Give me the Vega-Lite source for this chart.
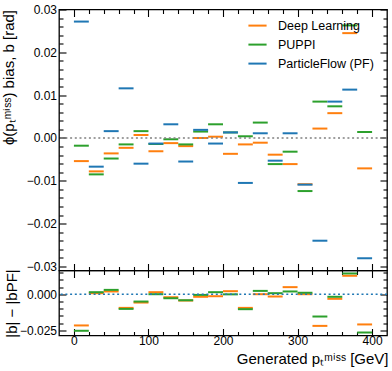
{
  "$schema": "https://vega.github.io/schema/vega-lite/v6.json",
  "padding": {"left": 0, "top": 2.5, "right": 2, "bottom": 2},
  "bounds": "flush",
  "spacing": 0,
  "config": {
    "view": {"stroke": "black", "strokeWidth": 1.3},
    "font": "Liberation Sans",
    "axis": {"domain": false, "grid": false, "tickColor": "black", "labelColor": "black", "titleColor": "black", "labelFont": "Liberation Sans", "titleFont": "Liberation Sans", "labelFontSize": 12, "titleFontSize": 15, "titleFontWeight": "normal", "labelOverlap": false, "labelFlush": false, "tickWidth": 1.1}
  },
  "datasets": {
    "top": [
      {"x0": 0, "x1": 20, "series": "Deep Learning", "b": -0.0054},
      {"x0": 20, "x1": 40, "series": "Deep Learning", "b": -0.0078},
      {"x0": 40, "x1": 60, "series": "Deep Learning", "b": -0.0036},
      {"x0": 60, "x1": 80, "series": "Deep Learning", "b": -0.0023},
      {"x0": 80, "x1": 100, "series": "Deep Learning", "b": 0.0007},
      {"x0": 100, "x1": 120, "series": "Deep Learning", "b": -0.0031},
      {"x0": 120, "x1": 140, "series": "Deep Learning", "b": -0.0012},
      {"x0": 140, "x1": 160, "series": "Deep Learning", "b": -0.0019},
      {"x0": 160, "x1": 180, "series": "Deep Learning", "b": 0.0000},
      {"x0": 180, "x1": 200, "series": "Deep Learning", "b": 0.0003},
      {"x0": 200, "x1": 220, "series": "Deep Learning", "b": -0.0037},
      {"x0": 220, "x1": 240, "series": "Deep Learning", "b": -0.0015},
      {"x0": 240, "x1": 260, "series": "Deep Learning", "b": -0.0011},
      {"x0": 260, "x1": 280, "series": "Deep Learning", "b": -0.0039},
      {"x0": 280, "x1": 300, "series": "Deep Learning", "b": -0.0061},
      {"x0": 300, "x1": 320, "series": "Deep Learning", "b": -0.0108},
      {"x0": 320, "x1": 340, "series": "Deep Learning", "b": 0.0022},
      {"x0": 340, "x1": 360, "series": "Deep Learning", "b": 0.0058},
      {"x0": 360, "x1": 380, "series": "Deep Learning", "b": 0.0245},
      {"x0": 380, "x1": 400, "series": "Deep Learning", "b": -0.0071},
      {"x0": 0, "x1": 20, "series": "PUPPI", "b": -0.0018},
      {"x0": 20, "x1": 40, "series": "PUPPI", "b": -0.0085},
      {"x0": 40, "x1": 60, "series": "PUPPI", "b": -0.0048},
      {"x0": 60, "x1": 80, "series": "PUPPI", "b": -0.0015},
      {"x0": 80, "x1": 100, "series": "PUPPI", "b": 0.0016},
      {"x0": 100, "x1": 120, "series": "PUPPI", "b": -0.0014},
      {"x0": 120, "x1": 140, "series": "PUPPI", "b": -0.0003},
      {"x0": 140, "x1": 160, "series": "PUPPI", "b": -0.0015},
      {"x0": 160, "x1": 180, "series": "PUPPI", "b": 0.0015},
      {"x0": 180, "x1": 200, "series": "PUPPI", "b": 0.0032},
      {"x0": 200, "x1": 220, "series": "PUPPI", "b": 0.0013},
      {"x0": 220, "x1": 240, "series": "PUPPI", "b": 0.0004},
      {"x0": 240, "x1": 260, "series": "PUPPI", "b": 0.0036},
      {"x0": 260, "x1": 280, "series": "PUPPI", "b": -0.0061},
      {"x0": 280, "x1": 300, "series": "PUPPI", "b": -0.0032},
      {"x0": 300, "x1": 320, "series": "PUPPI", "b": -0.0124},
      {"x0": 320, "x1": 340, "series": "PUPPI", "b": 0.0085},
      {"x0": 340, "x1": 360, "series": "PUPPI", "b": 0.0074},
      {"x0": 360, "x1": 380, "series": "PUPPI", "b": 0.0263},
      {"x0": 380, "x1": 400, "series": "PUPPI", "b": 0.0014},
      {"x0": 0, "x1": 20, "series": "ParticleFlow (PF)", "b": 0.0272},
      {"x0": 20, "x1": 40, "series": "ParticleFlow (PF)", "b": -0.0067},
      {"x0": 40, "x1": 60, "series": "ParticleFlow (PF)", "b": 0.0016},
      {"x0": 60, "x1": 80, "series": "ParticleFlow (PF)", "b": 0.0116},
      {"x0": 80, "x1": 100, "series": "ParticleFlow (PF)", "b": -0.0060},
      {"x0": 100, "x1": 120, "series": "ParticleFlow (PF)", "b": -0.0013},
      {"x0": 120, "x1": 140, "series": "ParticleFlow (PF)", "b": 0.0032},
      {"x0": 140, "x1": 160, "series": "ParticleFlow (PF)", "b": -0.0055},
      {"x0": 160, "x1": 180, "series": "ParticleFlow (PF)", "b": 0.0019},
      {"x0": 180, "x1": 200, "series": "ParticleFlow (PF)", "b": -0.0013},
      {"x0": 200, "x1": 220, "series": "ParticleFlow (PF)", "b": 0.0013},
      {"x0": 220, "x1": 240, "series": "ParticleFlow (PF)", "b": -0.0105},
      {"x0": 240, "x1": 260, "series": "ParticleFlow (PF)", "b": 0.0011},
      {"x0": 260, "x1": 280, "series": "ParticleFlow (PF)", "b": -0.0053},
      {"x0": 280, "x1": 300, "series": "ParticleFlow (PF)", "b": 0.0011},
      {"x0": 300, "x1": 320, "series": "ParticleFlow (PF)", "b": -0.0109},
      {"x0": 320, "x1": 340, "series": "ParticleFlow (PF)", "b": -0.0240},
      {"x0": 340, "x1": 360, "series": "ParticleFlow (PF)", "b": 0.0085},
      {"x0": 360, "x1": 380, "series": "ParticleFlow (PF)", "b": 0.0113},
      {"x0": 380, "x1": 400, "series": "ParticleFlow (PF)", "b": -0.0281}
    ],
    "bot": [
      {"x0": 0, "x1": 20, "series": "Deep Learning", "d": -0.0217},
      {"x0": 20, "x1": 40, "series": "Deep Learning", "d": 0.0007},
      {"x0": 40, "x1": 60, "series": "Deep Learning", "d": 0.0019},
      {"x0": 60, "x1": 80, "series": "Deep Learning", "d": -0.0095},
      {"x0": 80, "x1": 100, "series": "Deep Learning", "d": -0.0058},
      {"x0": 100, "x1": 120, "series": "Deep Learning", "d": 0.0014},
      {"x0": 120, "x1": 140, "series": "Deep Learning", "d": -0.0021},
      {"x0": 140, "x1": 160, "series": "Deep Learning", "d": -0.0044},
      {"x0": 160, "x1": 180, "series": "Deep Learning", "d": -0.0018},
      {"x0": 180, "x1": 200, "series": "Deep Learning", "d": -0.0014},
      {"x0": 200, "x1": 220, "series": "Deep Learning", "d": 0.0021},
      {"x0": 220, "x1": 240, "series": "Deep Learning", "d": -0.0095},
      {"x0": 240, "x1": 260, "series": "Deep Learning", "d": 0.0000},
      {"x0": 260, "x1": 280, "series": "Deep Learning", "d": -0.0016},
      {"x0": 280, "x1": 300, "series": "Deep Learning", "d": 0.0049},
      {"x0": 300, "x1": 320, "series": "Deep Learning", "d": 0.0000},
      {"x0": 320, "x1": 340, "series": "Deep Learning", "d": -0.0220},
      {"x0": 340, "x1": 360, "series": "Deep Learning", "d": -0.0032},
      {"x0": 360, "x1": 380, "series": "Deep Learning", "d": 0.0128},
      {"x0": 380, "x1": 400, "series": "Deep Learning", "d": -0.0210},
      {"x0": 0, "x1": 20, "series": "PUPPI", "d": -0.0254},
      {"x0": 20, "x1": 40, "series": "PUPPI", "d": 0.0014},
      {"x0": 40, "x1": 60, "series": "PUPPI", "d": 0.0030},
      {"x0": 60, "x1": 80, "series": "PUPPI", "d": -0.0102},
      {"x0": 80, "x1": 100, "series": "PUPPI", "d": -0.0051},
      {"x0": 100, "x1": 120, "series": "PUPPI", "d": 0.0000},
      {"x0": 120, "x1": 140, "series": "PUPPI", "d": -0.0028},
      {"x0": 140, "x1": 160, "series": "PUPPI", "d": -0.0042},
      {"x0": 160, "x1": 180, "series": "PUPPI", "d": -0.0005},
      {"x0": 180, "x1": 200, "series": "PUPPI", "d": 0.0014},
      {"x0": 200, "x1": 220, "series": "PUPPI", "d": -0.0001},
      {"x0": 220, "x1": 240, "series": "PUPPI", "d": -0.0104},
      {"x0": 240, "x1": 260, "series": "PUPPI", "d": 0.0023},
      {"x0": 260, "x1": 280, "series": "PUPPI", "d": 0.0007},
      {"x0": 280, "x1": 300, "series": "PUPPI", "d": 0.0019},
      {"x0": 300, "x1": 320, "series": "PUPPI", "d": 0.0010},
      {"x0": 320, "x1": 340, "series": "PUPPI", "d": -0.0155},
      {"x0": 340, "x1": 360, "series": "PUPPI", "d": -0.0018},
      {"x0": 360, "x1": 380, "series": "PUPPI", "d": 0.0144},
      {"x0": 380, "x1": 400, "series": "PUPPI", "d": -0.0266}
    ]
  },
  "resolve": {"legend": {"color": "independent"}},
  "vconcat": [
    {
      "width": 328,
      "height": 261,
      "data": {"name": "top"},
      "resolve": {"axis": {"x": "independent", "y": "independent"}},
      "layer": [
        {
          "mark": {"type": "rule", "strokeWidth": 2},
          "encoding": {
            "x": {"field": "x0", "type": "quantitative", "scale": {"domain": [-20, 420], "nice": false, "zero": false},
              "axis": {"orient": "bottom", "values": [0,20,40,60,80,100,120,140,160,180,200,220,240,260,280,300,320,340,360,380,400], "labels": false, "title": null,
                "tickSize": {"condition": {"test": "datum.value % 100 === 0", "value": -7}, "value": -4}}},
            "x2": {"field": "x1"},
            "y": {"field": "b", "type": "quantitative", "scale": {"domain": [-0.03096, 0.03002], "nice": false, "zero": false},
              "axis": {"orient": "left", "values": [-0.03,-0.028,-0.026,-0.024,-0.022,-0.02,-0.018,-0.016,-0.014,-0.012,-0.01,-0.008,-0.006,-0.004,-0.002,0,0.002,0.004,0.006,0.008,0.01,0.012,0.014,0.016,0.018,0.02,0.022,0.024,0.026,0.028,0.03],
                "labelExpr": "abs(datum.value*100 - round(datum.value*100)) < 1e-6 ? format(datum.value, '.2f') : ''",
                "tickSize": {"condition": {"test": "abs(datum.value*100 - round(datum.value*100)) < 1e-6", "value": -7}, "value": -4},
                "labelPadding": 9.5,
                "title": "ϕ(pₜᵐⁱˢˢ) bias, b [rad]", "titleAngle": 270, "titleAlign": "right", "titleBaseline": "middle", "titleX": -51, "titleY": 0}},
            "color": {"field": "series", "type": "nominal",
              "scale": {"domain": ["Deep Learning", "PUPPI", "ParticleFlow (PF)"], "range": ["#ff7f0e", "#2ca02c", "#1f77b4"]},
              "legend": {"orient": "none", "legendX": 188, "legendY": 5.6, "title": null, "symbolType": "stroke", "symbolStrokeWidth": 2, "symbolSize": 330, "labelFontSize": 12.5, "labelFont": "Liberation Sans", "labelOffset": 10, "rowPadding": 2, "padding": 0, "labelColor": "black"}}
          }
        },
        {
          "mark": {"type": "rule", "opacity": 0},
          "encoding": {
            "x": {"field": "x0", "type": "quantitative",
              "axis": {"orient": "top", "values": [0,20,40,60,80,100,120,140,160,180,200,220,240,260,280,300,320,340,360,380,400], "labels": false, "title": null,
                "tickSize": {"condition": {"test": "datum.value % 100 === 0", "value": -7}, "value": -4}}},
            "y": {"field": "b", "type": "quantitative",
              "axis": {"orient": "right", "values": [-0.03,-0.028,-0.026,-0.024,-0.022,-0.02,-0.018,-0.016,-0.014,-0.012,-0.01,-0.008,-0.006,-0.004,-0.002,0,0.002,0.004,0.006,0.008,0.01,0.012,0.014,0.016,0.018,0.02,0.022,0.024,0.026,0.028,0.03], "labels": false, "title": null,
                "tickSize": {"condition": {"test": "abs(datum.value*100 - round(datum.value*100)) < 1e-6", "value": -7}, "value": -4}}}
          }
        },
        {
          "data": {"values": [{"z": 0}]},
          "mark": {"type": "rule", "strokeWidth": 1.6, "strokeDash": [2, 2.7], "color": "#808080"},
          "encoding": {"y": {"field": "z", "type": "quantitative", "axis": null}}
        }
      ]
    },
    {
      "width": 328,
      "height": 65,
      "data": {"name": "bot"},
      "resolve": {"axis": {"x": "independent", "y": "independent"}},
      "layer": [
        {
          "mark": {"type": "rule", "strokeWidth": 2},
          "encoding": {
            "x": {"field": "x0", "type": "quantitative", "scale": {"domain": [-20, 420], "nice": false, "zero": false},
              "axis": {"orient": "bottom", "values": [0,20,40,60,80,100,120,140,160,180,200,220,240,260,280,300,320,340,360,380,400],
                "labelExpr": "datum.value % 100 === 0 ? datum.label : ''",
                "tickSize": {"condition": {"test": "datum.value % 100 === 0", "value": -7}, "value": -4},
                "labelPadding": 7,
                "title": "Generated pₜᵐⁱˢˢ [GeV]", "titleAlign": "right", "titleBaseline": "alphabetic", "titleX": 329, "titleY": 28}},
            "x2": {"field": "x1"},
            "y": {"field": "d", "type": "quantitative", "scale": {"domain": [-0.02868, 0.01646], "nice": false, "zero": false},
              "axis": {"orient": "left", "values": [-0.025,-0.02,-0.015,-0.01,-0.005,0,0.005,0.01,0.015],
                "labelExpr": "abs(datum.value*40 - round(datum.value*40)) < 1e-6 ? format(datum.value, '.3f') : ''",
                "tickSize": {"condition": {"test": "abs(datum.value*40 - round(datum.value*40)) < 1e-6", "value": -7}, "value": -4},
                "labelPadding": 9.5,
                "title": "|b| − |bPF|", "titleAngle": 270, "titleAlign": "center", "titleBaseline": "middle", "titleX": -48, "titleY": 32.5}},
            "color": {"field": "series", "type": "nominal",
              "scale": {"domain": ["Deep Learning", "PUPPI", "ParticleFlow (PF)"], "range": ["#ff7f0e", "#2ca02c", "#1f77b4"]},
              "legend": null}
          }
        },
        {
          "mark": {"type": "rule", "opacity": 0},
          "encoding": {
            "x": {"field": "x0", "type": "quantitative",
              "axis": {"orient": "top", "values": [0,20,40,60,80,100,120,140,160,180,200,220,240,260,280,300,320,340,360,380,400], "labels": false, "title": null,
                "tickSize": {"condition": {"test": "datum.value % 100 === 0", "value": -7}, "value": -4}}},
            "y": {"field": "d", "type": "quantitative",
              "axis": {"orient": "right", "values": [-0.025,-0.02,-0.015,-0.01,-0.005,0,0.005,0.01,0.015], "labels": false, "title": null,
                "tickSize": {"condition": {"test": "abs(datum.value*40 - round(datum.value*40)) < 1e-6", "value": -7}, "value": -4}}}
          }
        },
        {
          "data": {"values": [{"z": 0}]},
          "mark": {"type": "rule", "strokeWidth": 1.6, "strokeDash": [2, 2.7], "color": "#1f77b4"},
          "encoding": {"y": {"field": "z", "type": "quantitative", "axis": null}}
        }
      ]
    }
  ]
}
